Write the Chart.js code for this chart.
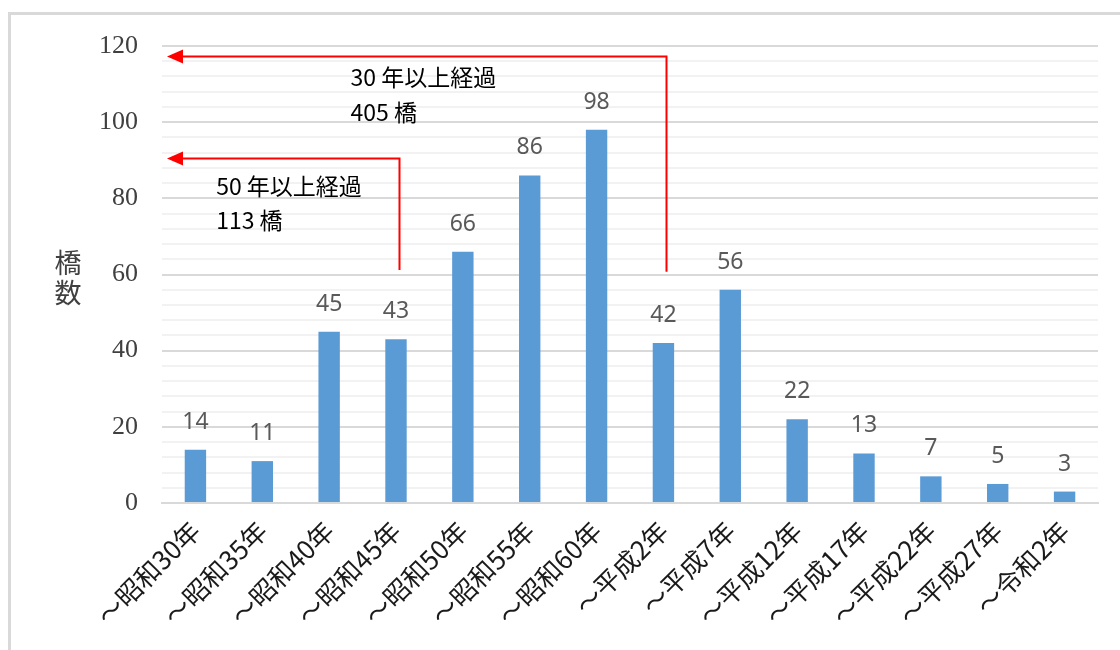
<!DOCTYPE html>
<html>
<head>
<meta charset="utf-8">
<script src="https://cdn.jsdelivr.net/npm/chart.js@4.4.1/dist/chart.umd.min.js"></script>
<style>
  html, body { margin: 0; padding: 0; background: #ffffff; }
  #wrap { width: 1120px; height: 650px; position: relative; }
</style>
</head>
<body>
<div id="wrap"><canvas id="c" width="1120" height="650"></canvas></div>
<script>
// ---- data ----
const categories = ['～昭和30年','～昭和35年','～昭和40年','～昭和45年','～昭和50年','～昭和55年','～昭和60年','～平成2年','～平成7年','～平成12年','～平成17年','～平成22年','～平成27年','～令和2年'];
const bridgeCounts = [14, 11, 45, 43, 66, 86, 98, 42, 56, 22, 13, 7, 5, 3];
const yTickMax = 120;
const yMajorStep = 20;
const yMinorStep = 4;
const yAxisTitle = ['橋', '数'];

// annotation brackets (category index the bracket rises from, value of its foot, value of its horizontal arm)
const bracketFromIndex = [7, 3];
const bracketFootValue = [60.7, 61.2];
const bracketArmValue = [117.4, 90.6];
// annotation texts: [line1, line2], anchored at a category position and two values
const noteLines = [['30 年以上経過', '405 橋'], ['50 年以上経過', '113 橋']];
const noteIndexPos = [2.32, 0.31];
const noteValue1 = [111.9, 83.2];
const noteValue2 = [102.7, 74.3];

const overlay = {
  id: 'overlay',
  beforeDraw(chart) {
    const ctx = chart.ctx;
    ctx.save();
    ctx.fillStyle = '#ffffff';
    ctx.fillRect(0, 0, chart.width, chart.height);
    ctx.strokeStyle = '#d9d9d9';
    ctx.lineWidth = 3;
    ctx.beginPath();
    ctx.moveTo(9.5, chart.height);
    ctx.lineTo(9.5, 13.5);
    ctx.lineTo(chart.width, 13.5);
    ctx.stroke();
    ctx.restore();
  },
  afterDraw(chart) {
    const ctx = chart.ctx;
    const xs = chart.scales.x, ys = chart.scales.y;
    const area = chart.chartArea;
    ctx.save();
    // y axis title, stacked vertically
    ctx.fillStyle = '#404040';
    ctx.font = '27px "Noto Sans CJK JP"';
    ctx.textAlign = 'center';
    ctx.textBaseline = 'middle';
    ctx.fillText(yAxisTitle[0], 68, 263);
    ctx.fillText(yAxisTitle[1], 68, 293);

    // brackets with arrows
    ctx.strokeStyle = '#ff0000';
    ctx.fillStyle = '#ff0000';
    ctx.lineWidth = 2;
    for (let i = 0; i < bracketFromIndex.length; i++) {
      const x = Math.round(xs.getPixelForValue(bracketFromIndex[i])) + 3.5;
      const yFoot = ys.getPixelForValue(bracketFootValue[i]);
      const yArm = Math.round(ys.getPixelForValue(bracketArmValue[i])) + 0.5;
      const tipX = area.left + 5;
      ctx.beginPath();
      ctx.moveTo(x, yFoot);
      ctx.lineTo(x, yArm);
      ctx.lineTo(tipX + 14, yArm);
      ctx.stroke();
      ctx.beginPath();
      ctx.moveTo(tipX, yArm);
      ctx.lineTo(tipX + 16, yArm - 7);
      ctx.lineTo(tipX + 16, yArm + 7);
      ctx.closePath();
      ctx.fill();
    }
    // note texts
    ctx.fillStyle = '#000000';
    ctx.font = '23px "Noto Sans CJK JP"';
    ctx.textAlign = 'left';
    ctx.textBaseline = 'middle';
    for (let i = 0; i < noteLines.length; i++) {
      const x = xs.getPixelForValue(noteIndexPos[i]);
      ctx.fillText(noteLines[i][0], x, ys.getPixelForValue(noteValue1[i]));
      ctx.fillText(noteLines[i][1], x, ys.getPixelForValue(noteValue2[i]));
    }
    // data labels
    ctx.fillStyle = '#595959';
    ctx.font = '23px "Noto Sans"';
    ctx.textAlign = 'center';
    ctx.textBaseline = 'alphabetic';
    const meta = chart.getDatasetMeta(0);
    meta.data.forEach((bar, idx) => {
      ctx.fillText(String(bridgeCounts[idx]), bar.x, bar.y - 21);
    });
    ctx.restore();
  }
};

new Chart(document.getElementById('c'), {
  type: 'bar',
  data: {
    labels: categories,
    datasets: [{
      data: bridgeCounts,
      backgroundColor: '#5b9bd5',
      borderWidth: 0,
      barPercentage: 0.32,
      categoryPercentage: 1.0
    }]
  },
  options: {
    responsive: false,
    animation: false,
    devicePixelRatio: 1,
    layout: { padding: { top: 46, right: 22, bottom: 0, left: 0 } },
    plugins: { legend: { display: false }, tooltip: { enabled: false } },
    scales: {
      x: {
        grid: { display: false, drawTicks: false },
        border: { display: true, color: '#d9d9d9', width: 2 },
        ticks: {
          autoSkip: false,
          maxRotation: 45,
          minRotation: 45,
          padding: 12,
          color: '#1a1a1a',
          font: { family: '"Noto Sans CJK JP"', size: 26 }
        },
        afterFit(scale) { scale.height = 147; }
      },
      y: {
        min: 0,
        max: yTickMax,
        border: { display: false },
        grid: {
          drawTicks: false,
          lineWidth: 2,
          color: (c) => (c.tick && c.tick.value % yMajorStep === 0) ? '#d9d9d9' : '#f2f2f2'
        },
        ticks: {
          stepSize: yMinorStep,
          autoSkip: false,
          padding: 24,
          color: '#404040',
          font: { family: '"Liberation Serif"', size: 26 },
          callback: (v) => (v % yMajorStep === 0 ? String(v) : '')
        },
        afterFit(scale) { scale.width = 162; }
      }
    }
  },
  plugins: [overlay]
});
</script>
</body>
</html>
